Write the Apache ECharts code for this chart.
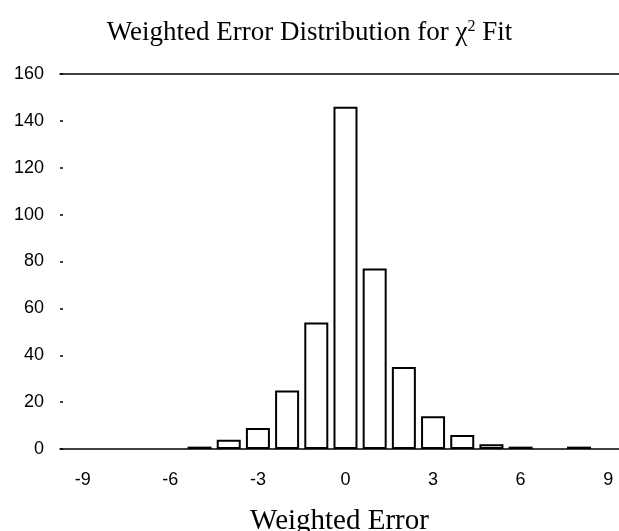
<!DOCTYPE html>
<html>
<head>
<meta charset="utf-8">
<script src="https://cdn.jsdelivr.net/npm/echarts@6/dist/echarts.min.js"></script>
<style>
  html, body { margin: 0; padding: 0; background: #fff; }
  #chart { width: 619px; height: 531px; }
</style>
</head>
<body>
<div id="chart"></div>
<script>
// histogram of weighted errors
var errorBins = [-5, -4, -3, -2, -1, 0, 1, 2, 3, 4, 5, 6, 8];
var binCounts = [1, 4, 9, 25, 54, 146, 77, 35, 14, 6, 2, 1, 1];
var xTickValues = [-9, -6, -3, 0, 3, 6, 9];
var yMin = 0, yMax = 160, yStep = 20;

var chart = echarts.init(document.getElementById('chart'));

var barData = errorBins.map(function (x, i) {
	return [x, binCounts[i]];
});

var option = {
	animation: false,
	backgroundColor: '#fff',
	title: {
		text: 'Weighted Error Distribution for {c|χ}{s|2} Fit',
		left: 'center',
		top: 14,
		textStyle: {
			fontFamily: 'Liberation Serif',
			fontSize: 27,
			fontWeight: 'normal',
			color: '#000',
			rich: {
				c: { fontFamily: 'Liberation Serif', fontSize: 27, color: '#000' },
				s: { fontFamily: 'Liberation Serif', fontSize: 16, color: '#000', padding: [0, 0, 12, 0] }
			}
		}
	},
	grid: {
		left: 60,
		right: 0,
		top: 74,
		bottom: 82,
		outerBoundsMode: 'none'
	},
	xAxis: [
		{
			type: 'value',
			min: -9.78,
			max: 9.37,
			name: 'Weighted Error',
			nameLocation: 'middle',
			nameGap: 58,
			nameTextStyle: {
				fontFamily: 'Liberation Serif',
				fontSize: 29,
				color: '#000'
			},
			axisLine: { show: true, onZero: false, lineStyle: { color: '#000', width: 1.5 } },
			axisTick: { show: false },
			splitLine: { show: false },
			axisLabel: {
				customValues: xTickValues,
				margin: 22,
				fontFamily: 'Liberation Sans',
				fontSize: 18,
				color: '#000'
			}
		},
		{
			// the line along the top of the plot
			type: 'value',
			position: 'top',
			min: -9.78,
			max: 9.37,
			axisLine: { show: true, onZero: false, lineStyle: { color: '#000', width: 1.5 } },
			axisTick: { show: false },
			axisLabel: { show: false },
			splitLine: { show: false }
		}
	],
	yAxis: {
		type: 'value',
		min: yMin,
		max: yMax,
		interval: yStep,
		axisLine: { show: false, onZero: false },
		axisTick: { show: true, inside: true, length: 3, lineStyle: { color: '#000', width: 1.5 } },
		splitLine: { show: false },
		axisLabel: {
			margin: 16,
			fontFamily: 'Liberation Sans',
			fontSize: 18,
			color: '#000'
		}
	},
	series: [
		{
			type: 'bar',
			data: barData,
			barWidth: 24,
			itemStyle: {
				color: '#fff',
				borderColor: '#000',
				borderWidth: 2
			}
		}
	]
};

chart.setOption(option);
</script>
</body>
</html>
